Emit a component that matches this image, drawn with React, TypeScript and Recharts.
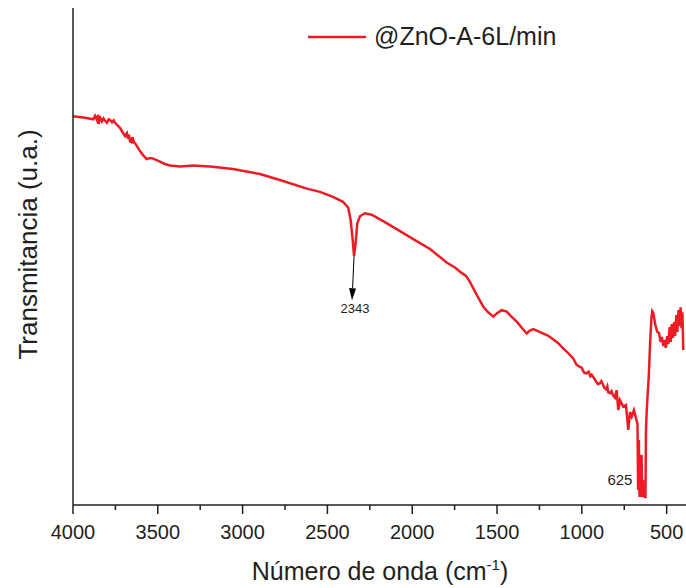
import React from 'react';
import { LineChart, Line, XAxis, YAxis, Legend, ReferenceLine, ReferenceDot } from 'recharts';

// FTIR spectrum: wavenumber (cm-1) vs transmittance (arbitrary units)
const wavenumbers = [
  4000, 3929, 3880, 3870, 3864, 3858, 3851, 3848, 3845, 3840, 3830, 3820, 3811, 3800, 3790, 3782,
  3770, 3760, 3752, 3723, 3693, 3682, 3675, 3670, 3664, 3655, 3650, 3646, 3640, 3634,
  3605, 3587, 3566, 3546, 3527, 3487, 3458, 3428, 3369, 3293, 3192, 3057, 2898, 2780, 2626, 2544,
  2467, 2408, 2377, 2363, 2351, 2343, 2332, 2324, 2308, 2279, 2239, 2151, 2072, 1994, 1895, 1797,
  1748, 1709, 1683, 1660, 1620, 1581, 1553, 1522, 1500, 1473, 1443, 1418, 1384, 1353, 1325, 1306,
  1286, 1259, 1227, 1200, 1168, 1141, 1110, 1082, 1051, 1031, 1011, 1000, 993, 985, 972, 960,
  950, 942, 930, 917, 905, 893, 885, 876, 868, 858, 850, 845, 834, 825, 817, 805,
  800, 795, 785, 775, 756, 740, 726, 716, 706, 693, 672, 668, 664,
  660, 656, 652, 648, 644, 640, 636, 632, 628, 625, 622, 618, 613, 605, 598, 590,
  585, 578, 572, 565, 555, 545, 535, 528, 520, 512, 505, 497, 490, 482, 476, 470,
  463, 456, 450, 443, 437, 430, 424, 418, 412, 407, 402,
];

const transmittance = [
  78.2, 77.9, 77.6, 78.3, 77.9, 77.4, 78.5, 76.7, 77.9, 78.0, 77.2, 77.8, 77.3, 76.9, 77.6, 77.5,
  77.0, 77.4, 76.9, 75.9, 74.2, 74.8, 73.7, 74.5, 73.2, 73.0, 74.0, 73.6, 72.9, 72.8,
  71.2, 70.4, 69.6, 69.8, 69.7, 69.1, 68.6, 68.3, 68.1, 68.3, 68.1, 67.6, 66.6, 65.4, 63.7, 63.0,
  62.0, 61.0, 59.8, 57.3, 53.3, 50.1, 53.3, 56.7, 58.1, 58.7, 58.4, 56.7, 55.1, 53.5, 51.5, 48.8,
  47.8, 46.7, 46.1, 44.9, 42.3, 39.9, 38.8, 37.9, 38.6, 39.2, 38.9, 38.0, 36.9, 35.6, 34.5, 35.1,
  35.4, 35.0, 34.5, 34.1, 33.3, 32.6, 31.5, 30.6, 29.5, 28.2, 27.8, 27.6, 27.0, 26.6, 26.5, 26.8,
  25.9, 26.2, 25.6, 24.9, 24.3, 24.5, 24.9, 24.3, 23.6, 23.3, 23.9, 22.7, 22.5, 22.9, 22.1, 21.6,
  22.4, 23.1, 19.1, 21.1, 19.8, 20.1, 15.1, 18.7, 17.8, 19.1, 16.3, 3.0, 13.1,
  1.6, 7.0, 1.6, 10.1, 1.6, 5.0, 1.6, 3.0, 1.6, 1.6, 15.1, 18.5, 21.7, 26.2, 32.2, 37.6,
  39.0, 38.6, 37.2, 36.0, 34.8, 34.6, 32.8, 33.8, 32.0, 33.2, 31.6, 34.0, 32.4, 35.8, 32.8, 36.4,
  33.6, 36.8, 34.0, 38.2, 34.8, 39.2, 36.0, 39.8, 35.6, 38.8, 31.2,
];

const xTicks = [
  4000, 3750, 3500, 3250, 3000, 2750, 2500, 2250, 2000, 1750, 1500, 1250, 1000, 750, 500,
];
const labeledTicks = [4000, 3500, 3000, 2500, 2000, 1500, 1000, 500];

const seriesName = '@ZnO-A-6L/min';
const xTitle = 'Número de onda (cm';
const xTitleSup = '-1';
const yTitle = 'Transmitancia (u.a.)';

// Annotated bands
const bandCO2 = 2343;
const bandCO2ArrowEnd = { wavenumber: 2355, transmittance: 41.2 };
const bandZnO = 625;

const data = wavenumbers.map((w, i) => ({ w, t: transmittance[i] }));
const valueAt = (w: number) => data.find((d) => d.w === w)?.t ?? 0;

const FONT = '"Liberation Sans", Arial, Helvetica, sans-serif';
const TEXT = '#231f20';
const AXIS = '#231f20';
const RED = '#ed1c24';

const BottomTick = (props: any) => {
  const { x, y, payload } = props;
  const v = payload.value as number;
  const major = labeledTicks.includes(v);
  return (
    <g>
      <line x1={x} x2={x} y1={y} y2={y + (major ? 9 : 5)} stroke={AXIS} strokeWidth={1.5} />
      {major && (
        <text x={x} y={y + 34} textAnchor="middle" fontFamily={FONT} fontSize={20} fill={TEXT}>
          {String(v)}
        </text>
      )}
    </g>
  );
};

const ArrowShape = (props: any) => {
  const { x1, y1, x2, y2 } = props;
  const down = y2 > y1;
  const sx = down ? x1 : x2;
  const sy = down ? y1 : y2;
  const tx = down ? x2 : x1;
  const ty = down ? y2 : y1;
  const dx = tx - sx;
  const dy = ty - sy;
  const len = Math.sqrt(dx * dx + dy * dy) || 1;
  const ux = dx / len;
  const uy = dy / len;
  const head = 12;
  const half = 3.5;
  const bx = tx - ux * head;
  const by = ty - uy * head;
  return (
    <g>
      <line x1={sx} y1={sy} x2={bx} y2={by} stroke="#000" strokeWidth={1} />
      <polygon
        points={`${tx},${ty} ${bx - uy * half},${by + ux * half} ${bx + uy * half},${by - ux * half}`}
        fill="#000"
      />
      <text x={tx + 3} y={ty + 13} textAnchor="middle" fontFamily={FONT} fontSize={13} fill={TEXT}>
        {String(bandCO2)}
      </text>
    </g>
  );
};

const ZnOLabel = (props: any) => {
  const { cx, cy } = props;
  return (
    <text x={cx - 13} y={cy - 12} textAnchor="end" fontFamily={FONT} fontSize={15} fill={TEXT}>
      {String(bandZnO)}
    </text>
  );
};

const LegendContent = (props: any) => {
  const item = (props.payload || [])[0];
  if (!item) return null;
  return (
    <div style={{ display: 'flex', alignItems: 'center', fontFamily: FONT, fontSize: 25, color: TEXT, whiteSpace: 'nowrap' }}>
      <svg width={58} height={6} style={{ display: 'block' }}>
        <line x1={0} x2={58} y1={3} y2={3} stroke={item.color} strokeWidth={2.5} />
      </svg>
      <span style={{ marginLeft: 8, lineHeight: '29px' }}>{item.value}</span>
    </div>
  );
};

const XTitle = (props: any) => {
  const vb = props.viewBox || {};
  const cx = vb.x + vb.width / 2;
  const by = vb.y + 75;
  return (
    <text x={cx} y={by} textAnchor="middle" fontFamily={FONT} fontSize={25} fill={TEXT}>
      <tspan>{xTitle}</tspan>
      <tspan fontSize={15} dy={-10}>{xTitleSup}</tspan>
      <tspan dy={10}>)</tspan>
    </text>
  );
};

const YTitle = (props: any) => {
  const vb = props.viewBox || {};
  const x = 37;
  const y = vb.y + vb.height / 2 - 12;
  return (
    <text x={x} y={y} transform={`rotate(-90 ${x} ${y})`} textAnchor="middle" fontFamily={FONT} fontSize={26} fill={TEXT}>
      {yTitle}
    </text>
  );
};

export default function App() {
  return (
    <div style={{ position: 'absolute', left: 0, top: 0, width: 686, height: 588, overflow: 'hidden', background: '#fff' }}>
      <LineChart width={700} height={588} data={data} margin={{ top: 8, right: 13, bottom: 0, left: 0 }}>
        <XAxis
          dataKey="w"
          type="number"
          domain={[380, 4000]}
          reversed
          ticks={xTicks}
          interval={0}
          tickSize={0}
          tickMargin={0}
          tickLine={false}
          tick={<BottomTick />}
          height={83}
          axisLine={{ stroke: AXIS, strokeWidth: 1.5 }}
          allowDataOverflow
          label={<XTitle />}
        />
        <XAxis
          xAxisId="top"
          orientation="top"
          dataKey="w"
          type="number"
          domain={[380, 4000]}
          reversed
          height={0}
          tick={false}
          tickLine={false}
          axisLine={{ stroke: AXIS, strokeWidth: 1.5 }}
          allowDataOverflow
        />
        <YAxis
          type="number"
          domain={[0, 100]}
          width={73}
          tick={false}
          tickLine={false}
          axisLine={{ stroke: AXIS, strokeWidth: 1.5 }}
          label={<YTitle />}
        />
        <Legend
          verticalAlign="middle"
          align="center"
          layout="horizontal"
          content={<LegendContent />}
          wrapperStyle={{ top: 22, left: 308, width: 300, height: 30 }}
        />
        <Line
          type="linear"
          dataKey="t"
          name={seriesName}
          stroke={RED}
          strokeWidth={2.5}
          dot={false}
          activeDot={false}
          isAnimationActive={false}
        />
        <ReferenceLine
          segment={[
            { x: bandCO2, y: valueAt(bandCO2) },
            { x: bandCO2ArrowEnd.wavenumber, y: bandCO2ArrowEnd.transmittance },
          ]}
          shape={<ArrowShape />}
        />
        <ReferenceDot x={bandZnO} y={valueAt(bandZnO)} r={0} shape={<ZnOLabel />} />
      </LineChart>
    </div>
  );
}
